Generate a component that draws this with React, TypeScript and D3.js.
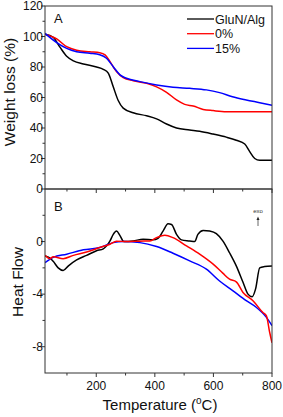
import React from "react";
import * as d3 from "d3";

const width = 283;
const height = 417;
const margin = { left: 45, right: 11 };
const topPanel = { top: 6, bottom: 189 };
const botPanel = { top: 189, bottom: 373 };

// TGA (weight loss %)
const tgaGluN: [number, number][] = [
  [25, 101.5], [53, 99.5], [76, 93], [99, 87], [122, 84], [156, 82], [201, 80],
  [224, 78.5], [241, 76], [258, 67], [275, 58], [292, 53], [326, 50], [372, 48],
  [406, 46], [440, 42.6], [474, 40], [519, 38.7], [553, 37.8], [599, 36], [644, 34],
  [678, 32], [707, 29.5], [724, 24.5], [741, 20], [758, 18.8], [800, 18.8]
];
const tga0: [number, number][] = [
  [25, 101.5], [65, 98.4], [99, 93.3], [133, 91], [178, 90], [212, 89.4], [230, 88],
  [247, 83.5], [269, 77], [292, 73], [326, 71], [372, 69.3], [406, 67], [440, 63.4],
  [474, 58.4], [502, 55.5], [531, 54.4], [565, 52.2], [599, 51.4], [644, 50.7], [800, 50.7]
];
const tga15: [number, number][] = [
  [25, 102], [65, 96], [99, 92.2], [133, 90], [178, 89], [212, 88], [235, 85.7],
  [258, 80.2], [281, 74.8], [303, 72.6], [349, 70.4], [406, 68.2], [462, 66.7],
  [519, 66], [576, 65], [621, 63.2], [665, 60.5], [712, 58.4], [758, 56.6], [800, 54.9]
];

// DSC (heat flow)
const dscGluN: [number, number][] = [
  [25, -1.1], [42, -1.25], [53, -1.5], [70, -2.0], [87, -2.2], [105, -1.85], [133, -1.4],
  [167, -1.05], [201, -0.7], [224, -0.55], [247, 0.05], [258, 0.55], [269, 0.8],
  [281, 0.45], [294, 0], [326, 0.05], [360, 0.18], [394, 0.13], [411, 0.25], [428, 0.8],
  [445, 1.35], [457, 1.3], [474, 0.55], [491, 0.13], [519, 0.05], [536, 0], [547, 0.55],
  [565, 0.85], [587, 0.8], [610, 0.6], [632, 0.05], [655, -0.85], [678, -1.85],
  [701, -3.1], [718, -4.0], [732, -4.2], [744, -3.6], [758, -2.0], [775, -1.9], [800, -1.85]
];
const dsc0: [number, number][] = [
  [25, -1.05], [42, -1.3], [53, -1.15], [87, -1.3], [122, -1.05], [167, -0.8],
  [212, -0.45], [247, -0.2], [269, 0.03], [303, 0], [349, 0.03], [383, 0.05], [406, 0.3],
  [434, 0.48], [462, 0.3], [508, -0.33], [553, -0.96], [599, -1.72], [632, -2.4],
  [655, -2.86], [678, -3.06], [701, -3.87], [735, -4.5], [769, -5.4], [781, -5.65],
  [792, -6.9], [800, -7.7]
];
const dsc15: [number, number][] = [
  [25, -1.6], [53, -1.2], [99, -0.96], [156, -0.63], [212, -0.45], [258, -0.08],
  [292, 0], [349, -0.08], [406, -0.38], [462, -0.89], [519, -1.47], [576, -2.1],
  [621, -3.0], [667, -3.75], [712, -4.5], [746, -5.0], [781, -5.77], [800, -6.4]
];

const xMajor = [200, 400, 600, 800];
const xMinor = [100, 300, 500, 700];
const tgaMajor = [0, 20, 40, 60, 80, 100, 120];
const tgaMinor = [10, 30, 50, 70, 90, 110];
const dscMajor = [0, -4, -8];
const dscMinor = [2, -2, -6];

const legend = [
  { label: "GluN/Alg", color: "#000000" },
  { label: "0%", color: "#ff0000" },
  { label: "15%", color: "#0000ff" }
];

const font = "Arial, 'Liberation Sans', sans-serif";
const axisColor = "#333";

export default function App() {
  const x = d3.scaleLinear().domain([25, 800]).range([margin.left, width - margin.right]);
  const yT = d3.scaleLinear().domain([0, 120]).range([topPanel.bottom, topPanel.top]);
  const yD = d3.scaleLinear().domain([-10, 4]).range([botPanel.bottom, botPanel.top]);

  const mkLine = (y: d3.ScaleLinear<number, number>) =>
    d3.line<[number, number]>().x(d => x(d[0])).y(d => y(d[1])).curve(d3.curveMonotoneX);
  const lT = mkLine(yT);
  const lD = mkLine(yD);

  const x0 = margin.left;
  const x1 = width - margin.right;

  return (
    <svg width={width} height={height} style={{ position: "absolute", left: 0, top: 0, background: "#fff" }}>
      <defs>
        <clipPath id="clipT"><rect x={x0} y={topPanel.top} width={x1 - x0} height={topPanel.bottom - topPanel.top} /></clipPath>
        <clipPath id="clipD"><rect x={x0} y={botPanel.top} width={x1 - x0} height={botPanel.bottom - botPanel.top} /></clipPath>
      </defs>

      {/* top panel curves */}
      <g clipPath="url(#clipT)" fill="none" strokeWidth={1.5}>
        <path d={lT(tgaGluN) || ""} stroke="#000" />
        <path d={lT(tga0) || ""} stroke="#ff0000" />
        <path d={lT(tga15) || ""} stroke="#0000ff" />
      </g>
      {/* bottom panel curves */}
      <g clipPath="url(#clipD)" fill="none" strokeWidth={1.5}>
        <path d={lD(dscGluN) || ""} stroke="#000" />
        <path d={lD(dsc15) || ""} stroke="#0000ff" />
        <path d={lD(dsc0) || ""} stroke="#ff0000" />
      </g>

      {/* frames */}
      <rect x={x0} y={topPanel.top} width={x1 - x0} height={topPanel.bottom - topPanel.top} fill="none" stroke={axisColor} strokeWidth={1} />
      <rect x={x0} y={botPanel.top} width={x1 - x0} height={botPanel.bottom - botPanel.top} fill="none" stroke={axisColor} strokeWidth={1} />

      {/* x ticks on both panels */}
      {[topPanel.bottom, botPanel.bottom].map((yy, k) => (
        <g key={k} stroke={axisColor}>
          {xMajor.map(t => <line key={"M" + t} x1={x(t)} x2={x(t)} y1={yy} y2={yy + 4} />)}
          {xMinor.map(t => <line key={"m" + t} x1={x(t)} x2={x(t)} y1={yy} y2={yy + 2.5} />)}
        </g>
      ))}
      <g fontFamily={font} fontSize={12} textAnchor="middle" fill="#111">
        {xMajor.map(t => <text key={t} x={x(t)} y={botPanel.bottom + 17}>{t}</text>)}
      </g>

      {/* y ticks */}
      <g stroke={axisColor}>
        {tgaMajor.map(t => <line key={"M" + t} x1={x0 - 4} x2={x0} y1={yT(t)} y2={yT(t)} />)}
        {tgaMinor.map(t => <line key={"m" + t} x1={x0 - 2.5} x2={x0} y1={yT(t)} y2={yT(t)} />)}
        {dscMajor.map(t => <line key={"D" + t} x1={x0 - 4} x2={x0} y1={yD(t)} y2={yD(t)} />)}
        {dscMinor.map(t => <line key={"d" + t} x1={x0 - 2.5} x2={x0} y1={yD(t)} y2={yD(t)} />)}
      </g>
      <g fontFamily={font} fontSize={12} textAnchor="end" fill="#111">
        {tgaMajor.map(t => <text key={t} x={x0 - 2} y={yT(t) + 4.3}>{t}</text>)}
        {dscMajor.map(t => <text key={"d" + t} x={x0 - 2} y={yD(t) + 4.3}>{t}</text>)}
      </g>

      {/* panel letters */}
      <text x={54} y={23} fontFamily={font} fontSize={13} fill="#111">A</text>
      <text x={54} y={211} fontFamily={font} fontSize={13} fill="#111">B</text>

      {/* legend */}
      <g fontFamily={font} fontSize={12.5} fill="#111">
        {legend.map((l, i) => (
          <g key={l.label} transform={`translate(0, ${19 + i * 14.7})`}>
            <line x1={187} x2={214} y1={0} y2={0} stroke={l.color} strokeWidth={1.3} />
            <text x={215} y={4.5}>{l.label}</text>
          </g>
        ))}
      </g>

      {/* exo marker */}
      <text x={258} y={213} fontFamily={font} fontSize={6} textAnchor="middle" fill="#333">exo</text>
      <line x1={258} x2={258} y1={226} y2={219} stroke="#666" strokeWidth={1} />
      <path d="M256.5,220 L258,216.5 L259.5,220 Z" fill="#222" />

      {/* axis titles */}
      <text transform={`translate(15, 92) rotate(-90)`} textAnchor="middle"
        fontFamily={font} fontSize={15.5} fill="#111">Weight loss (%)</text>
      <text transform={`translate(23, 282) rotate(-90)`} textAnchor="middle"
        fontFamily={font} fontSize={15.5} fill="#111">Heat Flow</text>
      <text x={160} y={410} textAnchor="middle" fontFamily={font} fontSize={15} fill="#111">
        Temperature (<tspan fontSize={10} dy={-6}>o</tspan><tspan dy={6}>C)</tspan>
      </text>
    </svg>
  );
}
